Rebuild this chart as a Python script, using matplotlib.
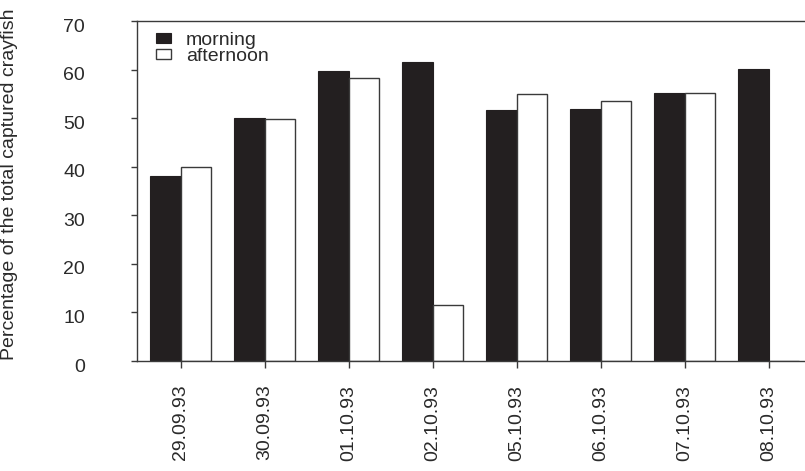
import numpy as np
import matplotlib
matplotlib.use("Agg")
import matplotlib.pyplot as plt
from matplotlib.transforms import ScaledTranslation

dates = ["29.09.93", "30.09.93", "01.10.93", "02.10.93",
         "05.10.93", "06.10.93", "07.10.93", "08.10.93"]
morning = [38.0, 50.0, 59.8, 61.6, 51.7, 51.9, 55.2, 60.2]
afternoon = [39.9, 49.8, 58.2, 11.5, 55.0, 53.5, 55.2, 0.0]

plt.rcParams["font.family"] = ["Liberation Sans", "DejaVu Sans"]
ink = "#231f20"
line = "#3a3a3a"
txt = "#2a2a2a"

fig = plt.figure(figsize=(8.05, 4.71), dpi=100)
ax = fig.add_axes([0.170, 0.2335, 0.830, 0.7219])

x = np.arange(len(dates))
w = 0.363
ax.bar(x - w / 2, morning, w, color=ink, edgecolor=ink, linewidth=0.8, label="morning")
ax.bar(x + w / 2, afternoon, w, color="white", edgecolor=line, linewidth=1.0, label="afternoon")

ax.set_xlim(-0.524, 7.43)
ax.set_ylim(0, 70)
ax.set_yticks(range(0, 71, 10))
ax.set_xticks(x)
ax.set_xticklabels(dates, rotation=90, fontsize=14, color=txt)

ax.spines["right"].set_visible(False)
for s in ["left", "top", "bottom"]:
    ax.spines[s].set_color(line)
    ax.spines[s].set_linewidth(1.0)

ax.tick_params(axis="y", length=4.3, width=1.0, color=line, pad=33, labelsize=14, labelcolor=txt)
ax.tick_params(axis="x", length=5, width=1.0, color=line, pad=12)

# y labels sit a little below their ticks in the original
shift = ScaledTranslation(0, -4 / 100, fig.dpi_scale_trans)
for lab in ax.get_yticklabels():
    lab.set_transform(lab.get_transform() + shift)

ax.set_ylabel("Percentage of the total captured crayfish", fontsize=14, color=txt)
ax.yaxis.set_label_coords(-0.178, 0.52)

ax.legend(loc="upper left", bbox_to_anchor=(0.028, 0.968), frameon=False, fontsize=14,
          handlelength=0.77, handleheight=0.36, handletextpad=0.8, labelspacing=-0.05,
          borderpad=0, borderaxespad=0, labelcolor=txt)

fig.savefig("out.png", dpi=100)
